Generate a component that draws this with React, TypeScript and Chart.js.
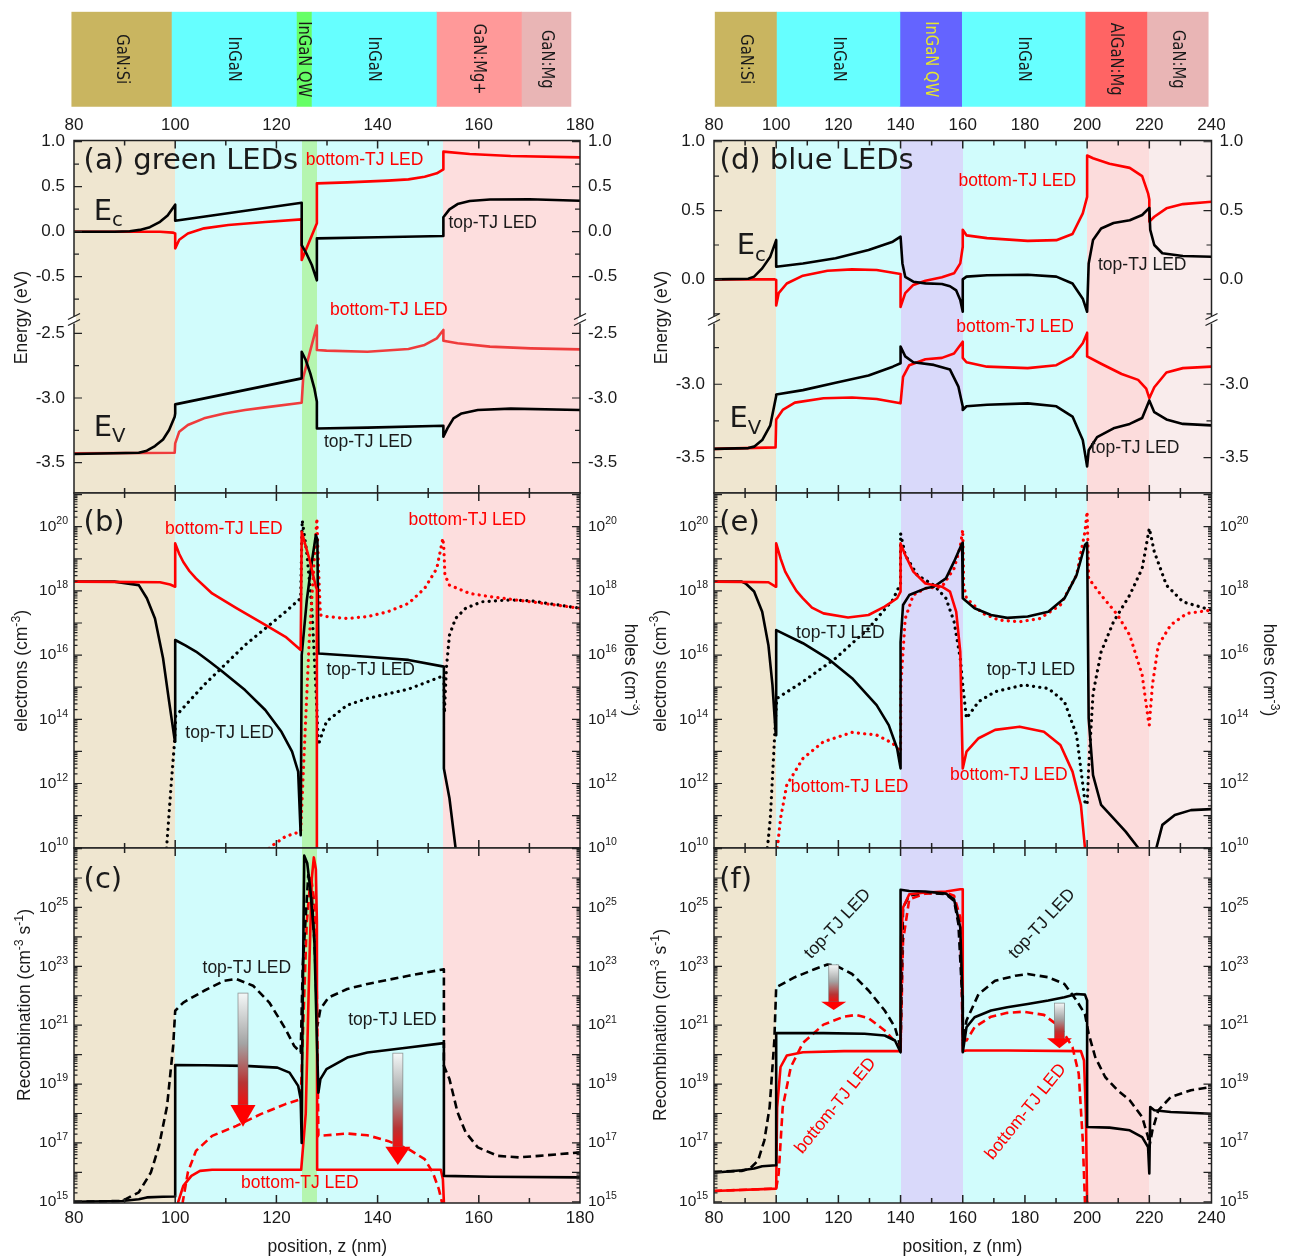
import React, { useEffect, useRef } from "react";
import { Chart, registerables } from "chart.js";

Chart.register(...registerables);

type P = [number, number];
type Seg = { t: string; sup?: boolean; sub?: boolean };

/* ================= axes & layer structure ================= */
const leftXLabels = [80, 100, 120, 140, 160, 180];
const rightXLabels = [80, 100, 120, 140, 160, 180, 200, 220, 240];

const leftLayerNames = ["GaN:Si", "InGaN", "InGaN QW", "InGaN", "GaN:Mg+", "GaN:Mg"];
const leftLayerEdges = [80, 100, 125, 128, 153, 170, 180];
const rightLayerNames = ["GaN:Si", "InGaN", "InGaN QW", "InGaN", "AlGaN:Mg", "GaN:Mg"];
const rightLayerEdges = [80, 100, 140, 160, 200, 220, 240];

const leftRegionEdges = [80, 100, 125, 128, 153, 180];
const rightRegionEdges = [80, 100, 140, 160, 200, 220, 240];

const aUpperLabels = [1.0, 0.5, 0.0, -0.5];
const aLowerLabels = [-2.5, -3.0, -3.5];
const dUpperLabels = [1.0, 0.5, 0.0];
const dLowerLabels = [-3.0, -3.5];
const densityLabelExps = [10, 12, 14, 16, 18, 20];
const recombLabelExps = [15, 17, 19, 21, 23, 25];

/* ================= (a) green LEDs, band edges (eV) ================= */
const aEcTop: P[] = [[80,0],[88,0],[91,0.005],[93,0.02],[95,0.05],[97,0.11],[98.5,0.18],[100,0.3],[100,0.122],[125,0.322],[125,-0.15],[126,-0.25],[127,-0.37],[128,-0.54],[128,-0.074],[140,-0.062],[153,-0.048],[153,0.16],[154.2,0.248],[155.8,0.307],[158.2,0.341],[162.2,0.358],[170,0.36],[180,0.344]];
const aEcBot: P[] = [[80,0],[97,0],[99.5,-0.01],[100,-0.02],[100,-0.185],[100.8,-0.09],[102.5,-0.02],[105.7,0.037],[110.5,0.074],[117.8,0.107],[125,0.137],[125,-0.315],[128,0.093],[128,0.537],[134,0.548],[142,0.567],[146.1,0.581],[149.3,0.611],[151.7,0.648],[153,0.693],[153,0.889],[158.2,0.863],[166.3,0.84],[180,0.826]];
const aEvTop: P[] = [[80,-3.433],[92.8,-3.423],[94.4,-3.407],[96,-3.371],[97.6,-3.32],[98.8,-3.247],[99.9,-3.144],[100,-3.12],[100,-3.049],[125,-2.848],[125,-2.642],[125.8,-2.706],[126.7,-2.809],[127.5,-2.925],[128,-3.028],[128,-3.235],[138,-3.229],[153,-3.214],[153,-3.299],[153.8,-3.235],[155,-3.157],[156.6,-3.119],[159.8,-3.093],[166.3,-3.082],[180,-3.093]];
const aEvBot: P[] = [[80,-3.428],[99.9,-3.423],[100,-3.351],[100.8,-3.26],[102.5,-3.209],[105.7,-3.157],[109.7,-3.119],[113.8,-3.093],[117.8,-3.072],[125,-3.036],[125.3,-2.84],[128,-2.44],[128,-2.629],[129.9,-2.634],[138,-2.642],[146.1,-2.621],[149.3,-2.59],[151.7,-2.539],[153,-2.474],[153,-2.557],[155.8,-2.577],[162.2,-2.603],[170.3,-2.616],[180,-2.624]];

/* ================= (d) blue LEDs, band edges (eV) ================= */
const dEcTop: P[] = [[80,0],[91,0.005],[92.9,0.02],[95.5,0.08],[98.1,0.165],[100,0.285],[100,0.092],[108.6,0.116],[119.1,0.153],[129.7,0.213],[137.5,0.274],[140,0.31],[140.6,0.116],[141.5,0.019],[144.1,-0.017],[148,-0.029],[153.3,-0.034],[155.9,-0.05],[157.9,-0.08],[159.2,-0.15],[160,-0.235],[160,0],[161.2,0.02],[167.8,0.03],[180.9,0.034],[190.1,0.02],[195.3,-0.03],[198.6,-0.14],[200,-0.235],[200.5,0.116],[201.9,0.286],[204.5,0.37],[208.5,0.41],[213.7,0.43],[217.7,0.468],[220,0.52],[220.3,0.36],[221.6,0.25],[224.2,0.19],[230.8,0.17],[240,0.165]];
const dEcBot: P[] = [[80,0],[99.5,0],[100,-0.005],[100,-0.19],[100.8,-0.1],[103.4,-0.03],[108.6,0.027],[116.5,0.063],[124.4,0.073],[132.3,0.068],[140,0.039],[140,-0.2],[141.5,-0.1],[144.1,-0.04],[148,-0.01],[153.3,0.015],[157.2,0.044],[159.2,0.116],[160,0.237],[160,0.36],[161.2,0.32],[167.8,0.3],[180.9,0.28],[190.1,0.285],[195.3,0.33],[198.6,0.48],[200,0.6],[200,0.9],[201.9,0.88],[207.2,0.84],[213.7,0.81],[217.7,0.75],[219.6,0.625],[220,0.58],[220,0.42],[221.6,0.455],[225.5,0.516],[230.8,0.547],[240,0.564]];
const dEvTop: P[] = [[80,-3.44],[91,-3.435],[92.9,-3.425],[95.5,-3.38],[98.1,-3.28],[100,-3.08],[100,-3.07],[108.6,-3.04],[119.1,-2.99],[129.7,-2.94],[137.5,-2.88],[140,-2.857],[140,-2.743],[141.5,-2.81],[144.1,-2.85],[150.7,-2.868],[155.9,-2.9],[158.6,-3.016],[160,-3.152],[160,-3.175],[161.2,-3.15],[167.8,-3.14],[180.9,-3.13],[190.1,-3.15],[195.3,-3.22],[198.6,-3.38],[200,-3.56],[200.5,-3.45],[203.2,-3.36],[208.5,-3.3],[213.7,-3.27],[217.7,-3.23],[220,-3.11],[221.6,-3.19],[225.5,-3.24],[230.8,-3.27],[240,-3.28]];
const dEvBot: P[] = [[80,-3.44],[99.8,-3.43],[100,-3.24],[102.1,-3.175],[106,-3.125],[115.2,-3.095],[124.4,-3.09],[132.3,-3.1],[140,-3.13],[140.8,-2.95],[142.8,-2.87],[148,-2.83],[153.3,-2.82],[157.2,-2.79],[160,-2.71],[160,-2.82],[161.2,-2.85],[167.8,-2.88],[180.9,-2.89],[190.1,-2.87],[195.3,-2.81],[198.6,-2.72],[200,-2.65],[200,-2.81],[204.5,-2.86],[211.1,-2.93],[216.4,-2.97],[219,-3.03],[220,-3.095],[221.6,-3.02],[225.5,-2.92],[230.8,-2.89],[240,-2.88]];

/* ================= (b) carrier densities, log10(cm^-3) ================= */
const bElecTop: P[] = [[80,18.29],[88,18.29],[92.8,18.18],[94.4,17.77],[96,17.14],[97.6,15.9],[98.8,14.55],[99.9,13.35],[100,13.3],[100,16.47],[102,16.3],[104.1,16.11],[106.5,15.83],[109,15.53],[113.8,14.91],[117.8,14.29],[121,13.61],[123.1,12.99],[124.3,12.37],[124.8,10.39],[125,16.0],[126,17.7],[127,18.9],[127.8,19.74],[128.1,19.6],[128.3,16.05],[138,15.95],[146.1,15.85],[153.1,15.64],[153.1,12.47],[154.2,11.54],[155.4,10.0],[156,9]];
const bElecBot: P[] = [[80,18.29],[97,18.27],[99,18.2],[100,18.13],[100,19.48],[100.8,19.15],[101.6,18.9],[102.8,18.62],[104.1,18.39],[107.3,17.92],[112.1,17.46],[117.8,16.94],[121.8,16.57],[124.8,16.16],[125,19.84],[126.5,19.0],[127.8,18.13],[128,18.05],[128,9]];
const bHoleTop: P[] = [[98.2,9],[98.3,10],[99.2,11.95],[99.9,13.35],[100.1,14.1],[105.7,15.07],[113.8,16.31],[121.8,17.35],[124.8,17.77],[125.1,20.2],[126,19.2],[127,17.5],[127.8,15],[128.3,13.2],[128.7,13.4],[129.9,13.93],[134,14.44],[138,14.65],[146.1,14.94],[153.1,15.36],[153.2,14.2],[153.6,15.6],[154.2,16.62],[155.4,17.14],[157.4,17.46],[160.6,17.66],[166.3,17.72],[170.3,17.69],[180,17.46]];
const bHoleBot: P[] = [[118,9.8],[118.6,10],[121.8,10.35],[124.8,10.5],[125.5,13],[126.5,16.5],[127.3,18.5],[128,20.26],[128.3,18.8],[128.7,17.25],[129.9,17.2],[134,17.14],[138,17.2],[142,17.35],[146.1,17.61],[149.3,18.08],[151.7,18.7],[152.9,19.64],[153.1,19.3],[153.3,18.5],[154.2,18.18],[158.2,17.92],[162.2,17.82],[170.3,17.66],[180,17.46]];

/* ================= (e) carrier densities, log10(cm^-3) ================= */
const eElecTop: P[] = [[80,18.29],[88.9,18.29],[90.2,18.23],[92.9,17.98],[95.5,17.35],[97.5,16.31],[98.8,15.07],[99.8,13.61],[100,13.5],[100,16.78],[108.6,16.37],[116.5,15.9],[124.4,15.28],[132.3,14.44],[136.2,13.82],[138.9,13.09],[140,12.47],[140,16.4],[140.8,17.56],[142.8,17.87],[148,18.08],[150.7,18.13],[154.6,18.39],[157.2,18.91],[159.8,19.48],[160,19.5],[160,17.77],[163.8,17.46],[169.1,17.25],[174.3,17.16],[180.9,17.2],[187.5,17.35],[192.7,17.77],[196.6,18.49],[199.3,19.43],[200,19.5],[200.5,14.03],[201.9,12.26],[204.5,11.33],[208.5,10.91],[212.4,10.5],[216.4,10.0],[217,9.5],[221.8,9.5],[222.3,10],[224.2,10.71],[228.2,11.02],[233.4,11.17],[240,11.2]];
const eElecBot: P[] = [[80,18.29],[97.5,18.27],[99.8,18.13],[100,18.13],[100,19.48],[101.4,19.01],[102.9,18.6],[104.7,18.29],[106.5,18.0],[108.6,17.77],[111.5,17.48],[115.2,17.3],[123.1,17.17],[129.7,17.25],[134.9,17.51],[138.9,17.77],[140,17.98],[140,19.48],[141.5,19.12],[144.1,18.6],[148,18.23],[153.3,18.13],[155.9,17.98],[157.9,17.35],[159.2,16.11],[160,12.47],[161.2,12.99],[165.1,13.41],[170.4,13.67],[178.3,13.77],[186.1,13.61],[191.4,13.2],[195.3,12.37],[198,11.33],[199.3,10],[199.6,9]];
const eHoleTop: P[] = [[97,9.8],[97.2,10],[98.1,10.91],[99.8,14.03],[100.2,14.65],[108.6,15.17],[119.1,15.9],[129.7,16.83],[137.5,17.72],[140,18.23],[140,19.79],[141.5,19.12],[145.4,18.49],[150.7,18.18],[154.6,17.77],[157.2,17.04],[159.2,15.9],[160,15.07],[161.2,14.03],[165.1,14.55],[170.4,14.86],[179.6,15.07],[187.5,14.96],[192.7,14.55],[196.6,13.51],[199.3,11.43],[200,11.33],[200.5,12.5],[201.9,14.8],[204.5,16.1],[208.5,17.04],[213.7,17.87],[217.7,18.7],[220,19.95],[221.6,19.22],[225.5,18.18],[230.8,17.66],[240,17.4]];
const eHoleBot: P[] = [[100.3,9.8],[100.4,10],[101.4,10.91],[103.4,11.95],[108.6,12.78],[115.2,13.3],[124.4,13.59],[132.3,13.51],[137.5,13.25],[140,12.99],[140.1,15.07],[141.5,17.14],[144.1,17.87],[148,18.08],[153.3,18.13],[157.2,18.7],[159.2,19.38],[160,19.9],[160.3,18.18],[161.2,17.77],[166.4,17.3],[171.7,17.09],[178.3,17.04],[184.8,17.14],[191.4,17.56],[196.6,18.49],[199.3,19.84],[200,20.47],[200.5,18.39],[204.5,17.87],[209.8,17.25],[213.7,16.62],[217.7,15.38],[219.6,14.03],[220,13.82],[221,15.07],[222.9,16.31],[226.9,16.94],[232.1,17.3],[240,17.4]];

/* ================= (c) recombination, log10(cm^-3 s^-1) ================= */
const cRecTop: P[] = [[80,15.0],[89.5,15.03],[92.8,15.09],[94.4,15.15],[97.6,15.17],[99.9,15.18],[100,15.18],[100,19.65],[105.7,19.64],[113.8,19.62],[120.2,19.56],[122.6,19.39],[124.3,18.94],[124.8,18.49],[125,17.0],[125.1,20],[125.5,26.76],[126.1,26.5],[126.7,25.62],[127.5,23.92],[128,20.53],[128.3,18.71],[128.7,19.17],[129.9,19.51],[134,19.9],[138,20.07],[146.1,20.24],[153.1,20.39],[153.1,15.88],[162.2,15.85],[180,15.83]];
const cSrhTop: P[] = [[80,15.0],[89.5,15.03],[92.8,15.32],[95.2,16.0],[96.8,16.9],[98.4,18.26],[99.6,20.3],[100,21.49],[101.6,21.77],[105.7,22.17],[109.7,22.51],[112.1,22.57],[115.4,22.34],[118.6,21.77],[121.8,20.87],[123.5,20.3],[124.8,20.07],[125.2,23],[126.3,26.1],[127,25.4],[127.6,23.5],[128.1,20.98],[128.7,21.55],[130.3,21.94],[134,22.23],[138,22.4],[146.1,22.68],[153.1,22.9],[153.1,19.62],[154.2,19.17],[155.8,18.04],[157.4,17.36],[159.8,16.85],[163.8,16.56],[167.9,16.51],[171.9,16.56],[180,16.68]];
const cRecBot: P[] = [[100.5,14.5],[100.6,15],[101.6,15.54],[103.2,15.88],[104.9,16.05],[107.3,16.09],[124.9,16.09],[125.8,18],[126.5,23],[127,26.0],[127.4,26.7],[127.8,26.3],[128,24.5],[128.05,16.09],[140,16.09],[152.5,16.09],[152.9,15.77],[153.1,15],[153.2,14.5]];
const cSrhBot: P[] = [[101.4,14.5],[101.5,15],[102.5,16.0],[104.1,16.73],[107.3,17.24],[112.1,17.58],[116.9,17.98],[121.8,18.32],[124.8,18.49],[125.3,21],[126,24.5],[126.8,26.08],[127.5,25.2],[128,22],[128.3,17.24],[129.9,17.26],[134,17.32],[138,17.26],[142,17.07],[146.1,16.79],[149.3,16.45],[150.9,16.0],[152.1,15.43],[152.7,15],[152.8,14.5]];

/* ================= (f) recombination, log10(cm^-3 s^-1) ================= */
const fRecTop: P[] = [[80,15.99],[88.9,16.07],[92.9,16.13],[95.5,16.21],[100,16.24],[100,20.73],[115.2,20.73],[128.4,20.71],[134.9,20.65],[138.2,20.48],[140,20.08],[140,25.6],[142.8,25.56],[148,25.54],[154.6,25.47],[157.2,25.28],[159.2,24.32],[159.9,22],[160,20.08],[161.2,20.93],[163.8,21.27],[169.1,21.5],[174.3,21.61],[180.9,21.72],[187.5,21.84],[192.7,21.95],[196.6,22.06],[199.3,22.04],[200,21.84],[200,17.54],[207.2,17.52],[213.7,17.43],[217.7,17.2],[219.6,16.86],[220,15.96],[220.3,18.22],[221.6,18.11],[226.9,18.05],[240,17.99]];
const fSrhTop: P[] = [[80,16.02],[88.9,16.05],[91.6,16.13],[94.2,16.41],[96.2,17.09],[97.9,18.22],[99.4,20.48],[100,22.29],[106,22.63],[112.5,22.91],[116.5,23.06],[119.1,23.03],[124.4,22.74],[129.7,22.18],[134.9,21.5],[138.2,20.93],[140,20.25],[140.8,25.0],[142.8,25.4],[148,25.51],[154.6,25.45],[157.2,25.23],[158.6,24.44],[160,21.61],[160.1,20.3],[161.2,21.16],[165.1,22.06],[170.4,22.51],[176.9,22.68],[180.9,22.74],[187.5,22.63],[192.7,22.4],[196.6,21.84],[199.3,21.38],[200.5,20.71],[202.6,19.92],[205.8,19.24],[209.8,18.79],[213.7,18.45],[217.7,17.88],[219.6,17.2],[220,16.86],[221,17.43],[222.9,18.11],[226.9,18.56],[233.4,18.79],[240,18.9]];
const fRecBot: P[] = [[80,15.37],[100,15.45],[100.3,18.2],[101.4,19.58],[103.4,19.97],[108.6,20.08],[121.8,20.12],[140,20.12],[140.2,24],[140.8,25.0],[142.8,25.45],[148,25.51],[154.6,25.54],[159.2,25.62],[160,25.62],[160,20.12],[161.2,20.14],[174.3,20.14],[198,20.12],[199,19.8],[199.6,18],[200,15],[200.1,14]];
const fSrhBot: P[] = [[80,15.37],[100,15.45],[100.8,15.96],[102.1,18.22],[104.7,19.58],[108.6,20.4],[115.2,21.02],[121.8,21.29],[125.7,21.35],[129.7,21.24],[134.9,20.82],[138.9,20.37],[140,20.14],[140.8,23.87],[142.8,25.28],[148,25.47],[154.6,25.5],[157.2,25.4],[159.2,24.66],[160,20.48],[161.2,20.48],[163.8,20.93],[169.1,21.29],[174.3,21.42],[179.6,21.46],[186.1,21.35],[191.4,20.93],[195.3,20.25],[197.3,19.35],[198.6,17.09],[199.3,15],[199.5,14]];

/* ================= styling ================= */
const W_L = 640, W_R = 649, H = 1259;
const SANS = '"Liberation Sans", Arial, Helvetica, sans-serif';
const WIDE = '"DejaVu Sans", Verdana, sans-serif';
const INK = "#1a1a1a";
const RED = "#ff0000";
const RED2 = "#ef3c3c";
const BLACK = "#000000";
const TICK_FS = 17;
const LOG_FS = 15.5;

const barColorsLeft = ["#C9B560", "#66FFFF", "#66FF66", "#66FFFF", "#FF9999", "#E9B5B5"];
const barColorsRight = ["#C9B560", "#66FFFF", "#6464FF", "#66FFFF", "#FF6464", "#E9B5B5"];
const barTextLeft = [INK, INK, INK, INK, INK, INK];
const barTextRight = [INK, INK, "#E6E62E", INK, INK, INK];
const regionColorsLeft = ["#EFE6D0", "#D1FCFC", "#B5F5AF", "#D1FCFC", "#FDDEDE"];
const regionColorsRight = ["#EFE6D0", "#D1FCFC", "#D9D9FA", "#D1FCFC", "#FCDCDC", "#F9ECEC"];

/* ================= drawing helpers ================= */
function drawRich(ctx: CanvasRenderingContext2D, segs: Seg[], x: number, y: number, size: number, family: string, color: string, align: string, ratio = 0.68) {
  ctx.save();
  ctx.fillStyle = color;
  ctx.textBaseline = "middle";
  ctx.textAlign = "left";
  const fonts = segs.map((s) => `${s.sup || s.sub ? size * ratio : size}px ${family}`);
  let w = 0;
  segs.forEach((s, i) => { ctx.font = fonts[i]; w += ctx.measureText(s.t).width; });
  let cx = align === "left" ? x : align === "center" ? x - w / 2 : x - w;
  segs.forEach((s, i) => {
    ctx.font = fonts[i];
    const dy = s.sup ? -size * 0.36 : s.sub ? size * 0.3 : 0;
    ctx.fillText(s.t, cx, y + dy);
    cx += ctx.measureText(s.t).width;
  });
  ctx.restore();
}

function drawArrow(ctx: CanvasRenderingContext2D, cx: number, yTop: number, yHead: number, yTip: number) {
  const sw = 10, hw = 25;
  ctx.save();
  const g = ctx.createLinearGradient(0, yTop, 0, yHead);
  g.addColorStop(0, "#f4f8f8");
  g.addColorStop(0.45, "#a4a4a4");
  g.addColorStop(0.8, "#b83434");
  g.addColorStop(1, "#f01010");
  ctx.fillStyle = g;
  ctx.fillRect(cx - sw / 2, yTop, sw, yHead - yTop + 1);
  ctx.strokeStyle = "rgba(110,110,110,0.7)";
  ctx.lineWidth = 0.8;
  ctx.strokeRect(cx - sw / 2, yTop, sw, yHead - yTop);
  ctx.fillStyle = "#ff0000";
  ctx.beginPath();
  ctx.moveTo(cx - hw / 2, yHead);
  ctx.lineTo(cx + hw / 2, yHead);
  ctx.lineTo(cx, yTip);
  ctx.closePath();
  ctx.fill();
  ctx.restore();
}

function energyTicks(min: number, max: number, labels: number[]) {
  const out: { v: number; len: number }[] = [];
  for (let k = Math.ceil(min / 0.25 - 1e-6); k * 0.25 <= max + 1e-6; k++) {
    const v = k * 0.25;
    out.push({ v, len: labels.some((l) => Math.abs(l - v) < 1e-6) ? 8 : 5 });
  }
  return out;
}
function logTicks(minE: number, maxE: number) {
  const out: { v: number; len: number }[] = [];
  for (let e = Math.floor(minE); e <= Math.ceil(maxE); e++) {
    for (let k = 1; k <= 9; k++) {
      const v = e + Math.log10(k);
      if (v < minE - 1e-9 || v > maxE + 1e-9) continue;
      out.push({ v, len: k === 1 ? 8 : 3.5 });
    }
  }
  return out;
}

function lineDs(pts: P[], color: string, log: boolean, style: string) {
  return {
    data: pts.map(([x, y]) => ({ x, y: log ? Math.pow(10, y) : y })),
    borderColor: color,
    borderWidth: style === "dot" ? 3.2 : 2.6,
    borderDash: style === "dot" ? [0.1, 6.2] : style === "dash" ? [8, 4.5] : [],
    borderCapStyle: style === "dot" ? "round" : "butt",
    borderJoinStyle: "round",
    pointRadius: 0,
    pointHoverRadius: 0,
    fill: false,
    tension: 0,
  };
}

function panelPlugin(o: any) {
  return {
    id: "panelDecor",
    beforeDatasetsDraw(chart: any) {
      const { ctx, chartArea: a } = chart;
      const xs = chart.scales.x;
      ctx.save();
      for (let i = 0; i < o.regionColors.length; i++) {
        const x0 = Math.round(xs.getPixelForValue(o.regionEdges[i]));
        const x1 = Math.round(xs.getPixelForValue(o.regionEdges[i + 1]));
        ctx.fillStyle = o.regionColors[i];
        ctx.fillRect(x0, a.top, x1 - x0, a.bottom - a.top);
      }
      ctx.restore();
    },
    afterDatasetsDraw(chart: any) {
      const { ctx, chartArea: a } = chart;
      const xs = chart.scales.x, ys = chart.scales.y;
      const yv = (v: number) => ys.getPixelForValue(o.log ? Math.pow(10, v) : v);
      (o.arrows || []).forEach((ar: any) => drawArrow(ctx, xs.getPixelForValue(ar.x), yv(ar.top), yv(ar.head), yv(ar.tip)));
      // frame and ticks
      ctx.save();
      ctx.strokeStyle = "#222";
      ctx.lineWidth = 1.5;
      ctx.beginPath();
      ctx.moveTo(a.left, a.top); ctx.lineTo(a.left, a.bottom);
      ctx.moveTo(a.right, a.top); ctx.lineTo(a.right, a.bottom);
      if (o.frameTop) { ctx.moveTo(a.left - 0.75, a.top); ctx.lineTo(a.right + 0.75, a.top); }
      if (o.frameBottom) { ctx.moveTo(a.left - 0.75, a.bottom); ctx.lineTo(a.right + 0.75, a.bottom); }
      for (let v = o.xMin; v <= o.xMax + 1e-6; v += 10) {
        const px = xs.getPixelForValue(v);
        const len = Math.round(v) % 20 === 0 ? 8 : 5;
        if (o.frameTop) { ctx.moveTo(px, a.top); ctx.lineTo(px, a.top + len); }
        if (o.frameBottom) { ctx.moveTo(px, a.bottom); ctx.lineTo(px, a.bottom - len); }
      }
      ctx.stroke();
      ctx.lineWidth = 1.2;
      ctx.beginPath();
      for (const t of o.yTicks) {
        const py = yv(t.v);
        ctx.moveTo(a.left, py); ctx.lineTo(a.left + t.len, py);
        ctx.moveTo(a.right, py); ctx.lineTo(a.right - t.len, py);
      }
      ctx.stroke();
      if (o.breakTop) {
        [a.left, a.right].forEach((xa: number) => {
          ctx.fillStyle = "#fff";
          ctx.fillRect(xa - 2, a.top - 3.5, 4, 7);
          ctx.beginPath();
          ctx.moveTo(xa - 6, a.top - 0.5); ctx.lineTo(xa + 6, a.top - 6.5);
          ctx.moveTo(xa - 6, a.top + 5.5); ctx.lineTo(xa + 6, a.top - 0.5);
          ctx.lineWidth = 1.3;
          ctx.stroke();
        });
      }
      ctx.restore();
      // y tick labels
      for (const v of o.yLabels) {
        const py = yv(v);
        if (o.log) {
          const segs: Seg[] = [{ t: "10" }, { t: String(v), sup: true }];
          drawRich(ctx, segs, a.left - 6, py, LOG_FS, SANS, INK, "right", 0.68);
          drawRich(ctx, segs, a.right + 8, py, LOG_FS, SANS, INK, "left", 0.68);
        } else {
          drawRich(ctx, [{ t: v.toFixed(1) }], a.left - 9, py, TICK_FS, SANS, INK, "right");
          drawRich(ctx, [{ t: v.toFixed(1) }], a.right + 8, py, TICK_FS, SANS, INK, "left");
        }
      }
      // x tick labels
      (o.xLabelsTop || []).forEach((v: number) => drawRich(ctx, [{ t: String(v) }], xs.getPixelForValue(v), a.top - 15.5, TICK_FS, SANS, INK, "center"));
      (o.xLabelsBottom || []).forEach((v: number) => drawRich(ctx, [{ t: String(v) }], xs.getPixelForValue(v), a.bottom + 15.5, TICK_FS, SANS, INK, "center"));
      // annotations (data coordinates)
      (o.anns || []).forEach((n: any) => {
        const px = xs.getPixelForValue(n.x), py = yv(n.y);
        ctx.save();
        ctx.translate(px, py);
        if (n.rot) ctx.rotate((n.rot * Math.PI) / 180);
        drawRich(ctx, n.text, 0, 0, n.size, n.family, n.color, n.align);
        ctx.restore();
      });
      // axis titles (canvas coordinates)
      (o.titles || []).forEach((tt: any) => {
        ctx.save();
        ctx.translate(tt.x, tt.y);
        if (tt.rot) ctx.rotate((tt.rot * Math.PI) / 180);
        drawRich(ctx, tt.text, 0, 0, 17.5, SANS, INK, "center", 0.7);
        ctx.restore();
      });
    },
  };
}

function panelConfig(o: any) {
  return {
    type: "line",
    data: { datasets: o.datasets },
    options: {
      animation: false,
      responsive: false,
      maintainAspectRatio: false,
      devicePixelRatio: 1,
      events: [],
      layout: { padding: o.pad },
      scales: {
        x: { type: "linear", min: o.xMin, max: o.xMax, display: false },
        y: {
          type: o.log ? "logarithmic" : "linear",
          min: o.log ? Math.pow(10, o.yMin) : o.yMin,
          max: o.log ? Math.pow(10, o.yMax) : o.yMax,
          display: false,
        },
      },
      plugins: { legend: { display: false }, tooltip: { enabled: false } },
    },
    plugins: [panelPlugin(o)],
  };
}

function barConfig(names: string[], edges: number[], colors: string[], textColors: string[], pad: any) {
  return {
    type: "bar",
    data: {
      labels: ["layers"],
      datasets: names.map((n, i) => ({
        label: n,
        data: [[edges[i], edges[i + 1]]],
        backgroundColor: colors[i],
        borderWidth: 0,
        barPercentage: 1,
        categoryPercentage: 1,
        grouped: false,
      })),
    },
    options: {
      indexAxis: "y",
      animation: false,
      responsive: false,
      maintainAspectRatio: false,
      devicePixelRatio: 1,
      events: [],
      layout: { padding: pad },
      scales: {
        x: { type: "linear", min: edges[0], max: edges[edges.length - 1], display: false },
        y: { type: "category", display: false },
      },
      plugins: { legend: { display: false }, tooltip: { enabled: false } },
    },
    plugins: [
      {
        id: "barLabels",
        afterDatasetsDraw(chart: any) {
          const { ctx, chartArea: a } = chart;
          const xs = chart.scales.x;
          names.forEach((n, i) => {
            const cx = xs.getPixelForValue((edges[i] + edges[i + 1]) / 2);
            const cy = (a.top + a.bottom) / 2;
            ctx.save();
            ctx.translate(cx, cy);
            ctx.rotate(Math.PI / 2);
            ctx.scale(0.82, 1);
            drawRich(ctx, [{ t: n }], 0, 0, 18, WIDE, textColors[i], "center");
            ctx.restore();
          });
        },
      },
    ],
  };
}

/* ================= annotations ================= */
const TB: Seg[] = [{ t: "bottom-TJ LED" }];
const TT: Seg[] = [{ t: "top-TJ LED" }];
const note = (x: number, y: number, text: Seg[], color: string, extra: any = {}) => ({ x, y, text, color, size: 17.5, family: SANS, align: "left", ...extra });
const big = (x: number, y: number, text: Seg[]) => ({ x, y, text, color: INK, size: 29, family: WIDE, align: "left" });
const EC: Seg[] = [{ t: "E" }, { t: "c", sub: true }];
const EV: Seg[] = [{ t: "E" }, { t: "V", sub: true }];
const ELEC: Seg[] = [{ t: "electrons (cm" }, { t: "-3", sup: true }, { t: ")" }];
const HOLE: Seg[] = [{ t: "holes (cm" }, { t: "-3", sup: true }, { t: ")" }];
const RECT: Seg[] = [{ t: "Recombination (cm" }, { t: "-3", sup: true }, { t: " s" }, { t: "-1", sup: true }, { t: ")" }];
const POS: Seg[] = [{ t: "position, z (nm)" }];
const ENER: Seg[] = [{ t: "Energy (eV)" }];

/* ================= layout geometry ================= */
const padL = { left: 74, right: 60 };
const padR = { left: 74, right: 77.5 };
const vUp = { top: 140.5, bottom: H - 320 };
const vLo = { top: 320, bottom: H - 493 };
const vDen = { top: 493, bottom: H - 848 };
const vRec = { top: 848, bottom: H - 1203 };

const aUp = [-0.981, 1.013], aLo = [-3.734, -2.397];
const dUp = [-0.295, 1.009], dLo = [-3.741, -2.562];
const denR = [9.99, 21.05], recR = [14.96, 27.02];

const leftMakers = [
  () => barConfig(leftLayerNames, leftLayerEdges, barColorsLeft, barTextLeft, { left: 71.4, right: 68.6, top: 11.7, bottom: H - 106.7 }),
  () => panelConfig({
    pad: { ...padL, ...vUp }, xMin: 80, xMax: 180, log: false, yMin: aUp[0], yMax: aUp[1],
    regionEdges: leftRegionEdges, regionColors: regionColorsLeft,
    datasets: [lineDs(aEcTop, BLACK, false, "solid"), lineDs(aEcBot, RED, false, "solid")],
    frameTop: true, frameBottom: false, yTicks: energyTicks(aUp[0], aUp[1], aUpperLabels), yLabels: aUpperLabels,
    xLabelsTop: leftXLabels,
    anns: [
      big(81.9, 0.775, [{ t: "(a) green LEDs" }]),
      note(125.8, 0.789, TB, RED),
      big(83.9, 0.219, EC),
      note(154.0, 0.097, TT, INK),
      note(130.6, -0.87, TB, RED),
    ],
    titles: [{ x: 22.4, y: 317.5, text: ENER, rot: -90 }],
  }),
  () => panelConfig({
    pad: { ...padL, ...vLo }, xMin: 80, xMax: 180, log: false, yMin: aLo[0], yMax: aLo[1],
    regionEdges: leftRegionEdges, regionColors: regionColorsLeft,
    datasets: [lineDs(aEvTop, BLACK, false, "solid"), lineDs(aEvBot, RED2, false, "solid")],
    frameTop: false, frameBottom: true, breakTop: true, yTicks: energyTicks(aLo[0], aLo[1], aLowerLabels), yLabels: aLowerLabels,
    anns: [big(83.9, -3.232, EV), note(129.4, -3.34, TT, INK)],
  }),
  () => panelConfig({
    pad: { ...padL, ...vDen }, xMin: 80, xMax: 180, log: true, yMin: denR[0], yMax: denR[1],
    regionEdges: leftRegionEdges, regionColors: regionColorsLeft,
    datasets: [lineDs(bElecBot, RED, true, "solid"), lineDs(bElecTop, BLACK, true, "solid"), lineDs(bHoleBot, RED, true, "dot"), lineDs(bHoleTop, BLACK, true, "dot")],
    frameTop: true, frameBottom: true, yTicks: logTicks(denR[0], denR[1]), yLabels: densityLabelExps,
    anns: [
      big(81.9, 20.1, [{ t: "(b)" }]),
      note(98.0, 19.92, TB, RED),
      note(146.1, 20.21, TB, RED),
      note(129.9, 15.54, TT, INK),
      note(102.0, 13.56, TT, INK),
    ],
    titles: [{ x: 22.5, y: 670.8, text: ELEC, rot: -90 }, { x: 630, y: 670, text: HOLE, rot: 90 }],
  }),
  () => panelConfig({
    pad: { ...padL, ...vRec }, xMin: 80, xMax: 180, log: true, yMin: recR[0], yMax: recR[1],
    regionEdges: leftRegionEdges, regionColors: regionColorsLeft,
    datasets: [lineDs(cRecTop, BLACK, true, "solid"), lineDs(cRecBot, RED, true, "solid"), lineDs(cSrhTop, BLACK, true, "dash"), lineDs(cSrhBot, RED, true, "dash")],
    frameTop: true, frameBottom: true, yTicks: logTicks(recR[0], recR[1]), yLabels: recombLabelExps,
    xLabelsBottom: leftXLabels,
    arrows: [{ x: 113.4, top: 22.09, head: 18.29, tip: 17.55 }, { x: 144.0, top: 20.05, head: 16.87, tip: 16.25 }],
    anns: [
      big(81.9, 25.93, [{ t: "(c)" }]),
      note(105.4, 22.93, TT, INK),
      note(134.2, 21.18, TT, INK),
      note(113.0, 15.63, TB, RED),
    ],
    titles: [{ x: 25.5, y: 1005, text: RECT, rot: -90 }, { x: 327.3, y: 1246.7, text: POS, rot: 0 }],
  }),
];

const rightMakers = [
  () => barConfig(rightLayerNames, rightLayerEdges, barColorsRight, barTextRight, { left: 74.7, right: 80.4, top: 11.7, bottom: H - 106.7 }),
  () => panelConfig({
    pad: { ...padR, ...vUp }, xMin: 80, xMax: 240, log: false, yMin: dUp[0], yMax: dUp[1],
    regionEdges: rightRegionEdges, regionColors: regionColorsRight,
    datasets: [lineDs(dEcTop, BLACK, false, "solid"), lineDs(dEcBot, RED, false, "solid")],
    frameTop: true, frameBottom: false, yTicks: energyTicks(dUp[0], dUp[1], dUpperLabels), yLabels: dUpperLabels,
    xLabelsTop: rightXLabels,
    anns: [
      big(81.8, 0.855, [{ t: "(d) blue LEDs" }]),
      big(87.3, 0.237, EC),
      note(158.6, 0.71, TB, RED),
      note(203.5, 0.105, TT, INK),
    ],
    titles: [{ x: 22.5, y: 317.5, text: ENER, rot: -90 }],
  }),
  () => panelConfig({
    pad: { ...padR, ...vLo }, xMin: 80, xMax: 240, log: false, yMin: dLo[0], yMax: dLo[1],
    regionEdges: rightRegionEdges, regionColors: regionColorsRight,
    datasets: [lineDs(dEvTop, BLACK, false, "solid"), lineDs(dEvBot, RED, false, "solid")],
    frameTop: false, frameBottom: true, breakTop: true, yTicks: energyTicks(dLo[0], dLo[1], dLowerLabels), yLabels: dLowerLabels,
    anns: [big(85.0, -3.243, EV), note(157.9, -2.614, TB, RED), note(201.2, -3.436, TT, INK)],
  }),
  () => panelConfig({
    pad: { ...padR, ...vDen }, xMin: 80, xMax: 240, log: true, yMin: denR[0], yMax: denR[1],
    regionEdges: rightRegionEdges, regionColors: regionColorsRight,
    datasets: [lineDs(eElecBot, RED, true, "solid"), lineDs(eElecTop, BLACK, true, "solid"), lineDs(eHoleBot, RED, true, "dot"), lineDs(eHoleTop, BLACK, true, "dot")],
    frameTop: true, frameBottom: true, yTicks: logTicks(denR[0], denR[1]), yLabels: densityLabelExps,
    anns: [
      big(81.7, 20.1, [{ t: "(e)" }]),
      note(106.4, 16.68, TT, INK),
      note(167.7, 15.54, TT, INK),
      note(104.7, 11.9, TB, RED),
      note(155.9, 12.27, TB, RED),
    ],
    titles: [{ x: 21, y: 670.8, text: ELEC, rot: -90 }, { x: 628.5, y: 670, text: HOLE, rot: 90 }],
  }),
  () => panelConfig({
    pad: { ...padR, ...vRec }, xMin: 80, xMax: 240, log: true, yMin: recR[0], yMax: recR[1],
    regionEdges: rightRegionEdges, regionColors: regionColorsRight,
    datasets: [lineDs(fRecTop, BLACK, true, "solid"), lineDs(fRecBot, RED, true, "solid"), lineDs(fSrhTop, BLACK, true, "dash"), lineDs(fSrhBot, RED, true, "dash")],
    frameTop: true, frameBottom: true, yTicks: logTicks(recR[0], recR[1]), yLabels: recombLabelExps,
    xLabelsBottom: rightXLabels,
    arrows: [{ x: 118.5, top: 23.05, head: 21.8, tip: 21.52 }, { x: 191.1, top: 21.75, head: 20.56, tip: 20.22 }],
    anns: [
      big(81.7, 25.93, [{ t: "(f)" }]),
      note(119.8, 24.44, TT, INK, { align: "center", rot: -47 }),
      note(185.5, 24.44, TT, INK, { align: "center", rot: -47 }),
      note(119.1, 18.26, TB, RED, { align: "center", rot: -51 }),
      note(180.3, 18.06, TB, RED, { align: "center", rot: -51 }),
    ],
    titles: [{ x: 21.5, y: 1025, text: RECT, rot: -90 }, { x: 322.4, y: 1246.7, text: POS, rot: 0 }],
  }),
];

function ChartLayer({ w, h, make }: { w: number; h: number; make: () => any }) {
  const ref = useRef<HTMLCanvasElement | null>(null);
  useEffect(() => {
    const chart = new Chart(ref.current as HTMLCanvasElement, make());
    return () => chart.destroy();
  }, [make]);
  return <canvas ref={ref} width={w} height={h} style={{ position: "absolute", left: 0, top: 0, width: w, height: h }} />;
}

export default function App() {
  return (
    <div style={{ position: "absolute", left: 0, top: 0, width: 1289, height: H, background: "#ffffff", overflow: "hidden" }}>
      <div style={{ position: "absolute", left: 0, top: 0, width: W_L, height: H }}>
        {leftMakers.map((m, i) => <ChartLayer key={i} w={W_L} h={H} make={m} />)}
      </div>
      <div style={{ position: "absolute", left: 640, top: 0, width: W_R, height: H }}>
        {rightMakers.map((m, i) => <ChartLayer key={i} w={W_R} h={H} make={m} />)}
      </div>
    </div>
  );
}
